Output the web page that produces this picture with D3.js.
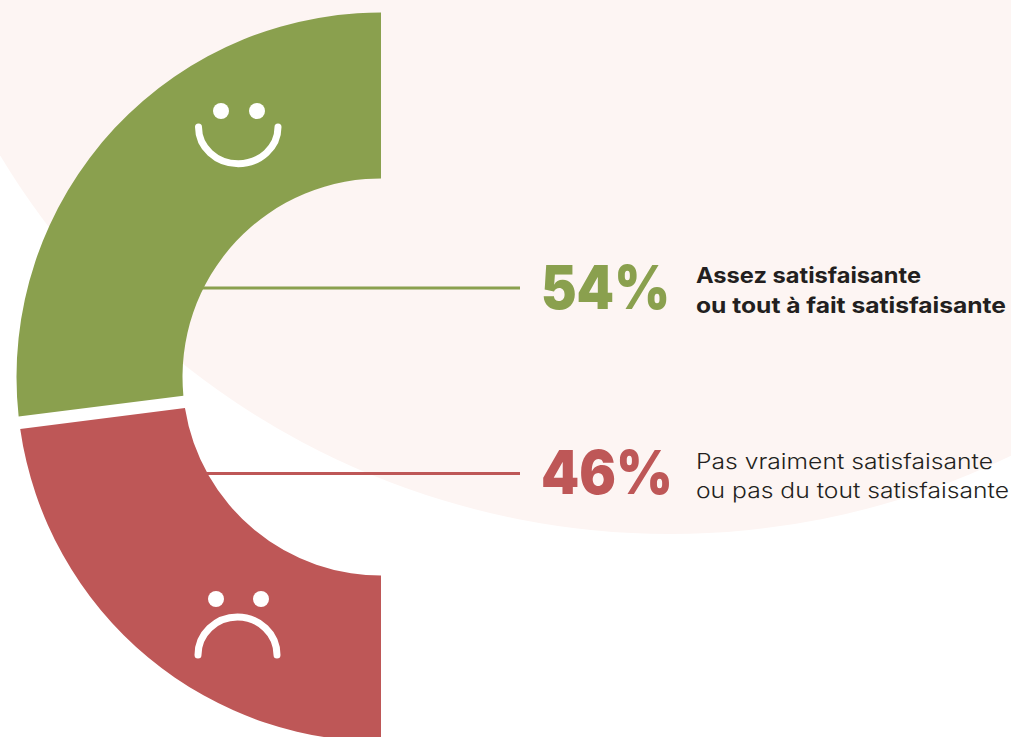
<!DOCTYPE html>
<html><head><meta charset="utf-8">
<script src="https://cdn.jsdelivr.net/npm/d3@7"></script>
<style>html,body{margin:0;padding:0;background:#fff;overflow:hidden}svg{display:block}text{font-family:Inter,"Open Sans",sans-serif}</style>
</head><body><div id="c"></div>
<script>
const categories=["satisfied","unsatisfied"];
const values=[54,46];
const valueLabels=["54%","46%"];
const labelsLine1=["Assez satisfaisante","Pas vraiment satisfaisante"];
const labelsLine2=["ou tout à fait satisfaisante","ou pas du tout satisfaisante"];
const colors=["#8AA04E","#BE5757"];

const W=1011,H=737,cx=381,cy=377,R=364.5,r=198.5;
const svg=d3.select("#c").append("svg").attr("width",W).attr("height",H);
svg.append("defs").append("clipPath").attr("id","half").append("rect")
  .attr("x",0).attr("y",0).attr("width",cx).attr("height",H);
svg.append("circle").attr("cx",670).attr("cy",-248).attr("r",782).attr("fill","#FDF5F3");

const pie=d3.pie().sort(null).startAngle(0).endAngle(-Math.PI)(values);
const arc=d3.arc().innerRadius(r).outerRadius(R).padRadius(300).padAngle(12.5/300);
const over=0.06;
const g=svg.append("g").attr("clip-path","url(#half)").append("g").attr("transform",`translate(${cx},${cy})`);

// leader lines
const lineY=[288,473.5], lineX=[196,196], textW=[[225,310],[297,313]], numW=[129,132], base=[[283,313],[469,498],[309,494]];
svg.selectAll("line.lead").data(categories).join("line").attr("class","lead")
  .attr("x1",(d,i)=>lineX[i]).attr("x2",520).attr("y1",(d,i)=>lineY[i]).attr("y2",(d,i)=>lineY[i])
  .attr("stroke",(d,i)=>colors[i]).attr("stroke-width",3);

g.selectAll("path").data(pie).join("path")
  .attr("d",(d,i)=>arc({startAngle:i===0?d.startAngle+over:d.startAngle,endAngle:i===1?d.endAngle-over:d.endAngle}))
  .attr("fill",(d,i)=>colors[i]);

// faces
const face=svg.append("g").attr("fill","#fff");
[[221,111],[257,111],[216,599],[261,599]].forEach(p=>face.append("circle").attr("cx",p[0]).attr("cy",p[1]).attr("r",8));
const st=(s)=>s.attr("fill","none").attr("stroke","#fff").attr("stroke-width",7).attr("stroke-linecap","round");
st(svg.append("path").attr("d","M198.5 127 A39.5 36.5 0 0 0 278 127"));
st(svg.append("path").attr("d","M198 655 A39.5 38 0 0 1 277 655"));

// text
svg.selectAll("text.num").data(valueLabels).join("text").attr("class","num")
  .attr("x",541).attr("y",(d,i)=>base[2][i]).attr("font-size",60).attr("font-weight",900)
  .attr("fill",(d,i)=>colors[i]).attr("textLength",(d,i)=>numW[i]).attr("lengthAdjust","spacingAndGlyphs").text(d=>d);
[labelsLine1,labelsLine2].forEach((arr,k)=>{
  svg.selectAll("text.l"+k).data(arr).join("text").attr("class","l"+k)
    .attr("x",696).attr("y",(d,i)=>base[i][k]).attr("font-size",21.5)
    .attr("font-weight",(d,i)=>i===0?700:300).attr("fill","#231F20")
    .attr("textLength",(d,i)=>textW[i][k]).attr("lengthAdjust","spacingAndGlyphs").text(d=>d);
});
</script></body></html>
